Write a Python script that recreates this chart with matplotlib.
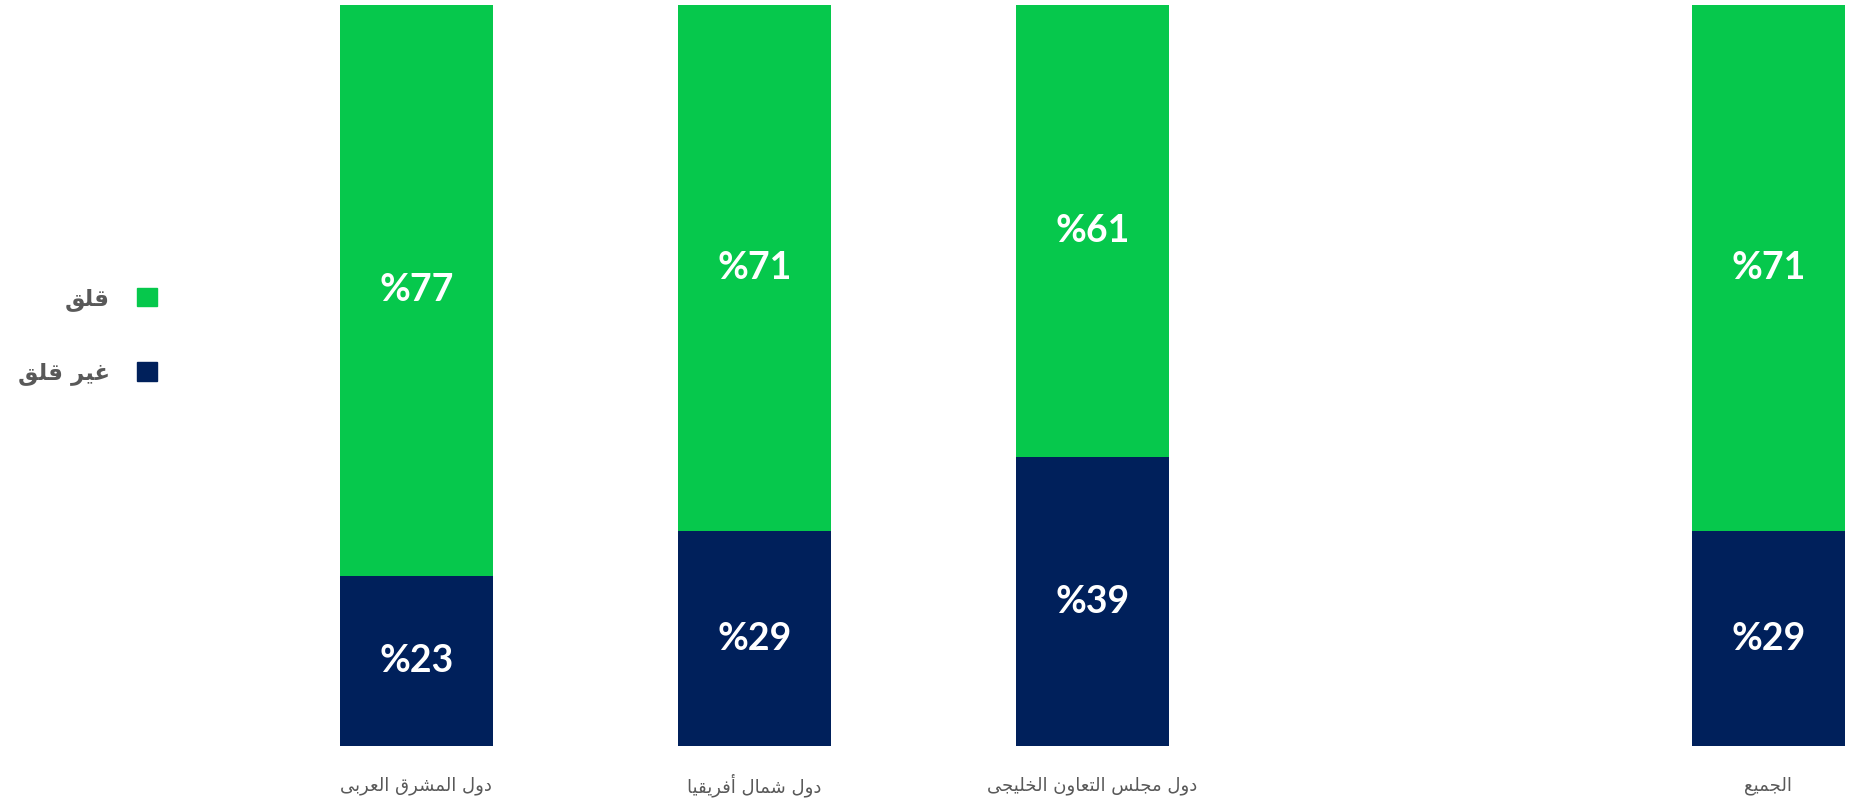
import matplotlib
matplotlib.use("Agg")
import matplotlib.pyplot as plt
from matplotlib.patches import Patch

# data
categories = ["دول المشرق العربى", "دول شمال أفريقيا", "دول مجلس التعاون الخليجى", "الجميع"]
slots = [0, 1, 2, 4]  # empty slot between gulf and total
worried = [77, 71, 61, 71]
not_worried = [23, 29, 39, 29]
series_names = ["قلق", "غير قلق"]

GREEN = "#06C84C"
NAVY = "#00205B"
GREY = "#595959"

# matplotlib has no arabic shaping, so pick presentation forms by hand
FORMS = {
    "ا": (0xFE8D, 0xFE8E), "أ": (0xFE83, 0xFE84),
    "ب": (0xFE8F, 0xFE90, 0xFE91, 0xFE92), "ت": (0xFE95, 0xFE96, 0xFE97, 0xFE98),
    "ج": (0xFE9D, 0xFE9E, 0xFE9F, 0xFEA0), "خ": (0xFEA5, 0xFEA6, 0xFEA7, 0xFEA8),
    "د": (0xFEA9, 0xFEAA), "ر": (0xFEAD, 0xFEAE),
    "س": (0xFEB1, 0xFEB2, 0xFEB3, 0xFEB4), "ش": (0xFEB5, 0xFEB6, 0xFEB7, 0xFEB8),
    "ع": (0xFEC9, 0xFECA, 0xFECB, 0xFECC), "غ": (0xFECD, 0xFECE, 0xFECF, 0xFED0),
    "ف": (0xFED1, 0xFED2, 0xFED3, 0xFED4), "ق": (0xFED5, 0xFED6, 0xFED7, 0xFED8),
    "ل": (0xFEDD, 0xFEDE, 0xFEDF, 0xFEE0), "م": (0xFEE1, 0xFEE2, 0xFEE3, 0xFEE4),
    "ن": (0xFEE5, 0xFEE6, 0xFEE7, 0xFEE8), "و": (0xFEED, 0xFEEE),
    "ى": (0xFEEF, 0xFEF0), "ي": (0xFEF1, 0xFEF2, 0xFEF3, 0xFEF4),
}


def shape(text):
    out = []
    for i, ch in enumerate(text):
        if ch not in FORMS:
            out.append(ch)
            continue
        prev = text[i - 1] if i > 0 else ""
        nxt = text[i + 1] if i + 1 < len(text) else ""
        joins_prev = prev in FORMS and len(FORMS[prev]) == 4
        joins_next = len(FORMS[ch]) == 4 and nxt in FORMS
        form = (1 if joins_prev else 0) + (2 if joins_next else 0)
        if form == 2 and joins_prev:
            form = 3
        out.append(chr(FORMS[ch][form]))
    return "".join(reversed(out))


fig = plt.figure(figsize=(18.62, 7.99), dpi=100)
ax = fig.add_axes([0, 0.0663, 1, 0.9274])

w = 0.453
b1 = ax.bar(slots, not_worried, width=w, color=NAVY)
b2 = ax.bar(slots, worried, width=w, bottom=not_worried, color=GREEN)

for x, lo, hi in zip(slots, not_worried, worried):
    ax.text(x, lo / 2, "%" + str(lo), ha="center", va="center", color="white",
            fontsize=27, fontweight="bold", family="Lato")
    ax.text(x, lo + hi / 2, "%" + str(hi), ha="center", va="center", color="white",
            fontsize=27, fontweight="bold", family="Lato")

for x, c in zip(slots, categories):
    ax.text(x, -5.3, shape(c), ha="center", va="center", color=GREY,
            fontsize=13, family="DejaVu Sans")

ax.set_xlim(-1.232, 4.277)
ax.set_ylim(0, 100)
ax.axis("off")

handles = [Patch(color=GREEN), Patch(color=NAVY)]
ax.legend(handles, [shape(s) for s in series_names], loc="center right",
          bbox_to_anchor=(168 / 1862, 1 - 336 / 799), bbox_transform=fig.transFigure,
          markerfirst=False, frameon=False, borderpad=0, handlelength=0.85,
          handleheight=0.85, handletextpad=1.2, labelspacing=2.22,
          prop={"family": "DejaVu Sans", "weight": "bold", "size": 16.5},
          labelcolor=GREY)

plt.savefig("out.png", dpi=100)
